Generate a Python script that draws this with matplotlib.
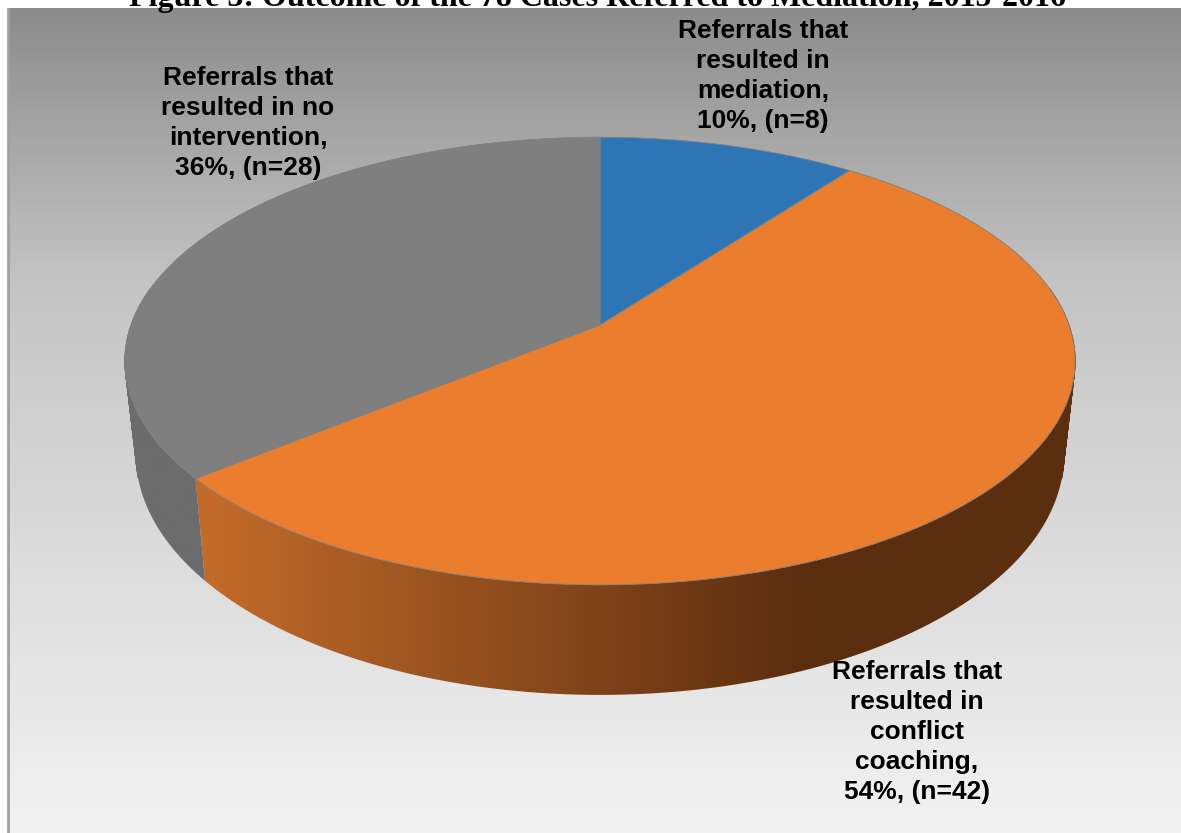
import matplotlib
matplotlib.use('Agg')
import matplotlib.pyplot as plt
from matplotlib.colors import LinearSegmentedColormap
from matplotlib.patches import Polygon, Rectangle
import numpy as np

title = 'Figure 3: Outcome of the 78 Cases Referred to Mediation, 2015-2016'
outcomes = ['mediation', 'conflict coaching', 'no intervention']
counts = [8, 42, 28]
top_colors = ['#2e75b6', '#ea7d2e', '#7f7f7f']
# side wall shade at the left and right end of the disc
side_colors = [('#1b4a75', '#1b4a75'), ('#c46c2a', '#5c2e10'), ('#6c6c6c', '#6c6c6c')]
labels = ['Referrals that\nresulted in\nmediation,\n10%, (n=8)',
          'Referrals that\nresulted in\nconflict\ncoaching,\n54%, (n=42)',
          'Referrals that\nresulted in no\nintervention,\n36%, (n=28)']
label_pos = [(763, 76), (917, 732), (248, 123)]

W, H = 1181, 833
# perspective disc: sizes of the top face and of the bottom rim, in pixels
persp = 0.161
cx = 600
top_a, top_b, top_y = 469, 218, 325
low_a, low_b, low_y = 458, 234, 416
# past these angles the wall turns edge-on, so it is filled piece by piece
wall_from, wall_to = np.radians(105), np.radians(255)


def project(theta, a, b, y0):
    u, v = np.sin(theta), np.cos(theta)
    w = 1 + persp * v
    return cx + a * u / w, y0 - b * v / w


def wall_pieces(start, end, color):
    # small quads from the top rim to the bottom rim
    if end <= start:
        return
    t = np.linspace(start, end, 40)
    xa, ya = project(t, top_a, top_b, top_y)
    xb, yb = project(t, low_a, low_b, low_y)
    for j in range(len(t) - 1):
        ax.add_patch(Polygon([(xa[j], ya[j]), (xa[j + 1], ya[j + 1]),
                              (xb[j + 1], yb[j + 1]), (xb[j], yb[j])],
                             fc=color, ec=color, lw=0.5, zorder=2))


fig = plt.figure(figsize=(W / 100, H / 100), dpi=100, facecolor='white')
ax = fig.add_axes([0, 0, 1, 1])
ax.axis('off')

# chart background
bg = LinearSegmentedColormap.from_list('bg', ['#8c8c8c', '#c4c4c4', '#dcdcdc', '#f2f2f2'])
ax.imshow(np.linspace(0, 1, 256).reshape(-1, 1), cmap=bg, extent=(8, W, H, 8),
          aspect='auto', zorder=0)
ax.plot([8, 8], [8, H], color='#a0a0a0', lw=2, zorder=1)

edges = np.cumsum([0] + counts) / sum(counts) * 2 * np.pi

for i, (left, right) in enumerate(side_colors):
    wall_pieces(max(edges[i], np.radians(80)), min(edges[i + 1], wall_from), right)
    wall_pieces(max(edges[i], wall_to), min(edges[i + 1], np.radians(280)), left)

    # front of the wall, a horizontal gradient clipped to the slice's outline
    start, end = max(edges[i], wall_from), min(edges[i + 1], wall_to)
    if end <= start:
        continue
    t = np.linspace(start, end, 200)
    xa, ya = project(t, top_a, top_b, top_y)
    xb, yb = project(t, low_a, low_b, low_y)
    outline = Polygon(np.r_[np.c_[xa, ya], np.c_[xb, yb][::-1]], fc='none', ec='none',
                      transform=ax.transData)
    ax.add_patch(outline)
    cmap = LinearSegmentedColormap.from_list('side%d' % i, [left, right])
    grad = np.clip((np.linspace(0, W, 600) - 195) / (800 - 195), 0, 1).reshape(1, -1)
    im = ax.imshow(grad, cmap=cmap, vmin=0, vmax=1, extent=(0, W, H, 0), aspect='auto', zorder=2)
    im.set_clip_path(outline)

# top face
for i, base in enumerate(top_colors):
    t = np.linspace(edges[i], edges[i + 1], 200)
    xa, ya = project(t, top_a, top_b, top_y)
    pts = [(cx, top_y)] + list(zip(xa, ya))
    ax.add_patch(Polygon(pts, fc=base, ec='#808080', lw=0.6, zorder=3))

for text, (x, y) in zip(labels, label_pos):
    ax.text(x, y, text, ha='center', va='center', fontsize=19, fontweight='bold',
            family='Liberation Sans', color='black', linespacing=1.32, zorder=5)

# title sits partly off the top edge
ax.add_patch(Rectangle((0, 0), W, 8, fc='white', ec='none', zorder=4))
ax.text(597, 6, title, ha='center', va='baseline', fontsize=23, fontweight='bold',
        family='Liberation Serif', color='black', zorder=6, clip_on=False)

ax.set_xlim(0, W)
ax.set_ylim(H, 0)
fig.savefig('out.png', dpi=100)
